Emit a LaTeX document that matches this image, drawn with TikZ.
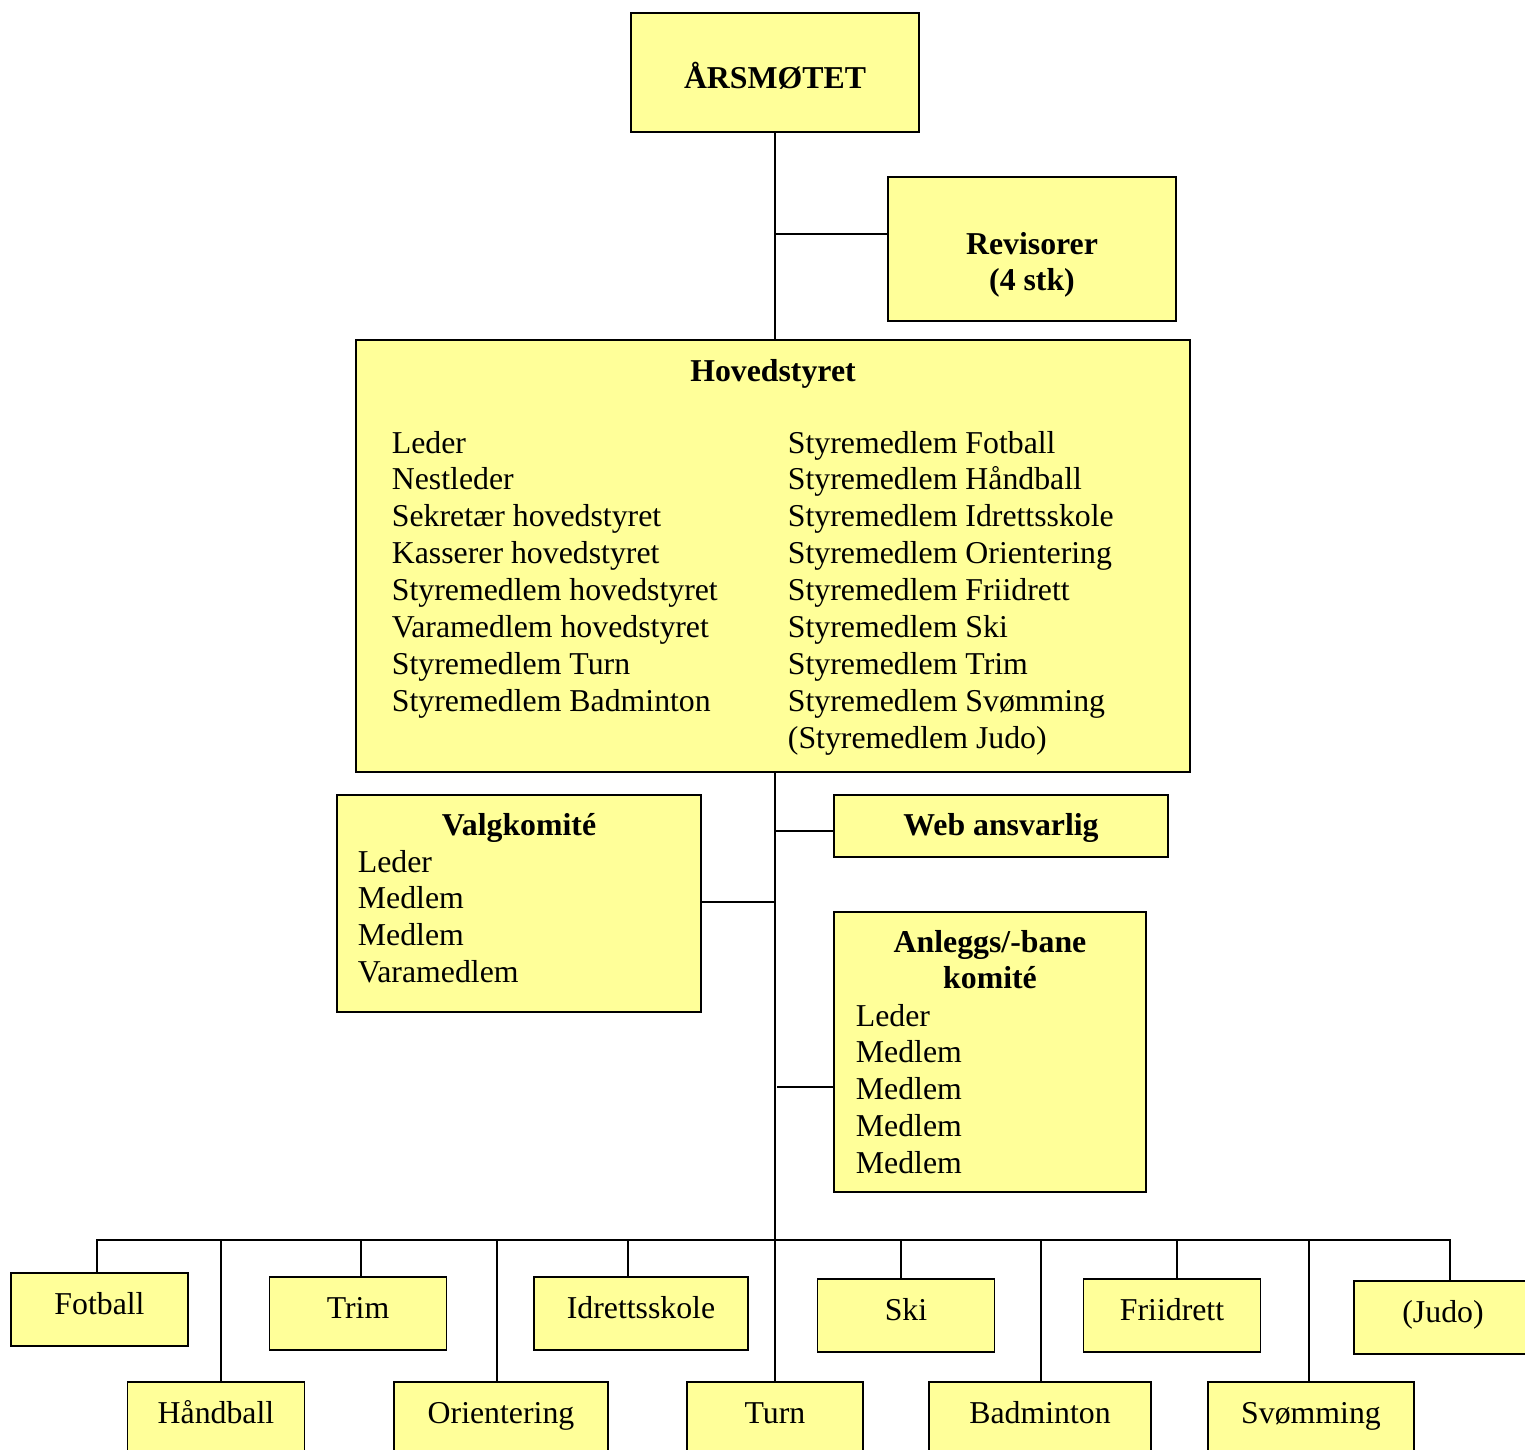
\documentclass[tikz,border=0pt]{standalone}
\usepackage{fontspec}
\setmainfont{Liberation Serif}
\definecolor{boxyellow}{HTML}{FFFF99}
\newcommand{\orgfont}{\fontsize{31.8}{36.9}\selectfont}
\newcommand{\orgrows}[2][l]{\begin{tabular}[t]{@{}#1@{}}#2\end{tabular}}
\tikzset{
  orgbox/.style={draw, fill=boxyellow, inner sep=0pt},
  clubbox/.style={orgbox, minimum height=73pt, text height=21pt, text depth=12pt},
  lbl/.style={inner sep=0pt, anchor=base},
  lst/.style={inner sep=0pt, anchor=base west},
  ttl/.style={lbl, font=\orgfont\bfseries}
}

\begin{document}
\begin{tikzpicture}[x=1pt,y=-1pt,font=\orgfont,line width=1.8pt]
	\clip (0,0) rectangle (1525,1450);
	% top level
	\node [orgbox, minimum width=288pt, minimum height=119pt] (ars) at (775,72.5) {};
	\node [ttl] (ars-t) at (775,89) {ÅRSMØTET};
	\node [orgbox, minimum width=288pt, minimum height=144pt] (rev) at (1032,249) {};
	\node [ttl] (rev-t) at (1032,254) {\orgrows[c]{Revisorer\\(4 stk)}};
	% main board
	\node [orgbox, minimum width=834pt, minimum height=432pt] (hs) at (773,556) {};
	\node [ttl] (hs-t) at (773,381) {Hovedstyret};
	\node [lst] (hs-l) at (391,453) {\orgrows{Leder\\Nestleder\\Sekretær hovedstyret\\Kasserer hovedstyret\\Styremedlem hovedstyret\\Varamedlem hovedstyret\\Styremedlem Turn\\Styremedlem Badminton}};
	\node [lst] (hs-r) at (787,453) {\orgrows{Styremedlem Fotball\\Styremedlem Håndball\\Styremedlem Idrettsskole\\Styremedlem Orientering\\Styremedlem Friidrett\\Styremedlem Ski\\Styremedlem Trim\\Styremedlem Svømming\\(Styremedlem Judo)}};
	% committees
	\node [orgbox, minimum width=364pt, minimum height=217pt] (vk) at (519,903.5) {};
	\node [ttl] (vk-t) at (519,835) {Valgkomité};
	\node [lst] (vk-l) at (357,872) {\orgrows{Leder\\Medlem\\Medlem\\Varamedlem}};
	\node [orgbox, minimum width=334pt, minimum height=62pt] (web) at (1001,826) {};
	\node [ttl] (web-t) at (1001,835) {Web ansvarlig};
	\node [orgbox, minimum width=312pt, minimum height=280pt] (ak) at (990,1052) {};
	\node [ttl] (ak-t) at (990,952) {\orgrows[c]{Anleggs/-bane\\komité}};
	\node [lst] (ak-l) at (855,1026) {\orgrows{Leder\\Medlem\\Medlem\\Medlem\\Medlem}};
	% groups, upper row
	\node [clubbox, minimum width=177pt] (fot) at (99.5,1309.5) {Fotball};
	\node [clubbox, minimum width=177pt] (trim) at (358,1313.5) {Trim};
	\node [clubbox, minimum width=214pt] (ids) at (641,1313.5) {Idrettsskole};
	\node [clubbox, minimum width=177pt] (ski) at (906,1315.5) {Ski};
	\node [clubbox, minimum width=177pt] (fri) at (1172,1315.5) {Friidrett};
	\node [clubbox, minimum width=178pt] (jud) at (1443,1317.5) {(Judo)};
	% groups, lower row
	\node [clubbox, minimum width=177pt] (hb) at (216,1418.5) {Håndball};
	\node [clubbox, minimum width=214pt] (or) at (501,1418.5) {Orientering};
	\node [clubbox, minimum width=176pt] (turn) at (775,1418.5) {Turn};
	\node [clubbox, minimum width=222pt] (bad) at (1040,1418.5) {Badminton};
	\node [clubbox, minimum width=206pt] (svo) at (1311,1418.5) {Svømming};
	% trunk and branches
	\draw (ars.south) -- (ars.south |- hs.north);
	\draw (ars.south |- hs.south) -- (turn.north);
	\coordinate (rj) at (775,234);
	\draw (rj) -- (rj -| rev.west);
	\coordinate (wj) at (775,831);
	\draw (wj) -- (wj -| web.west);
	\coordinate (vj) at (775,902);
	\draw (vj) -- (vj -| vk.east);
	\coordinate (aj) at (777,1087);
	\draw (aj) -- (aj -| ak.west);
	% bus to the groups
	\coordinate (bfot) at (97,1240);
	\coordinate (bjud) at (1450,1240);
	\draw (fot.north -| bfot) -- (bfot) -- (bjud) -- (jud.north -| bjud);
	\foreach \n/\x in {hb/221, trim/361, or/497, ids/628, ski/901, bad/1041, fri/1177, svo/1309}{
		\coordinate (b\n) at (\x,1240);
		\draw (b\n) -- (b\n |- \n.north);
	}
\end{tikzpicture}
\end{document}
